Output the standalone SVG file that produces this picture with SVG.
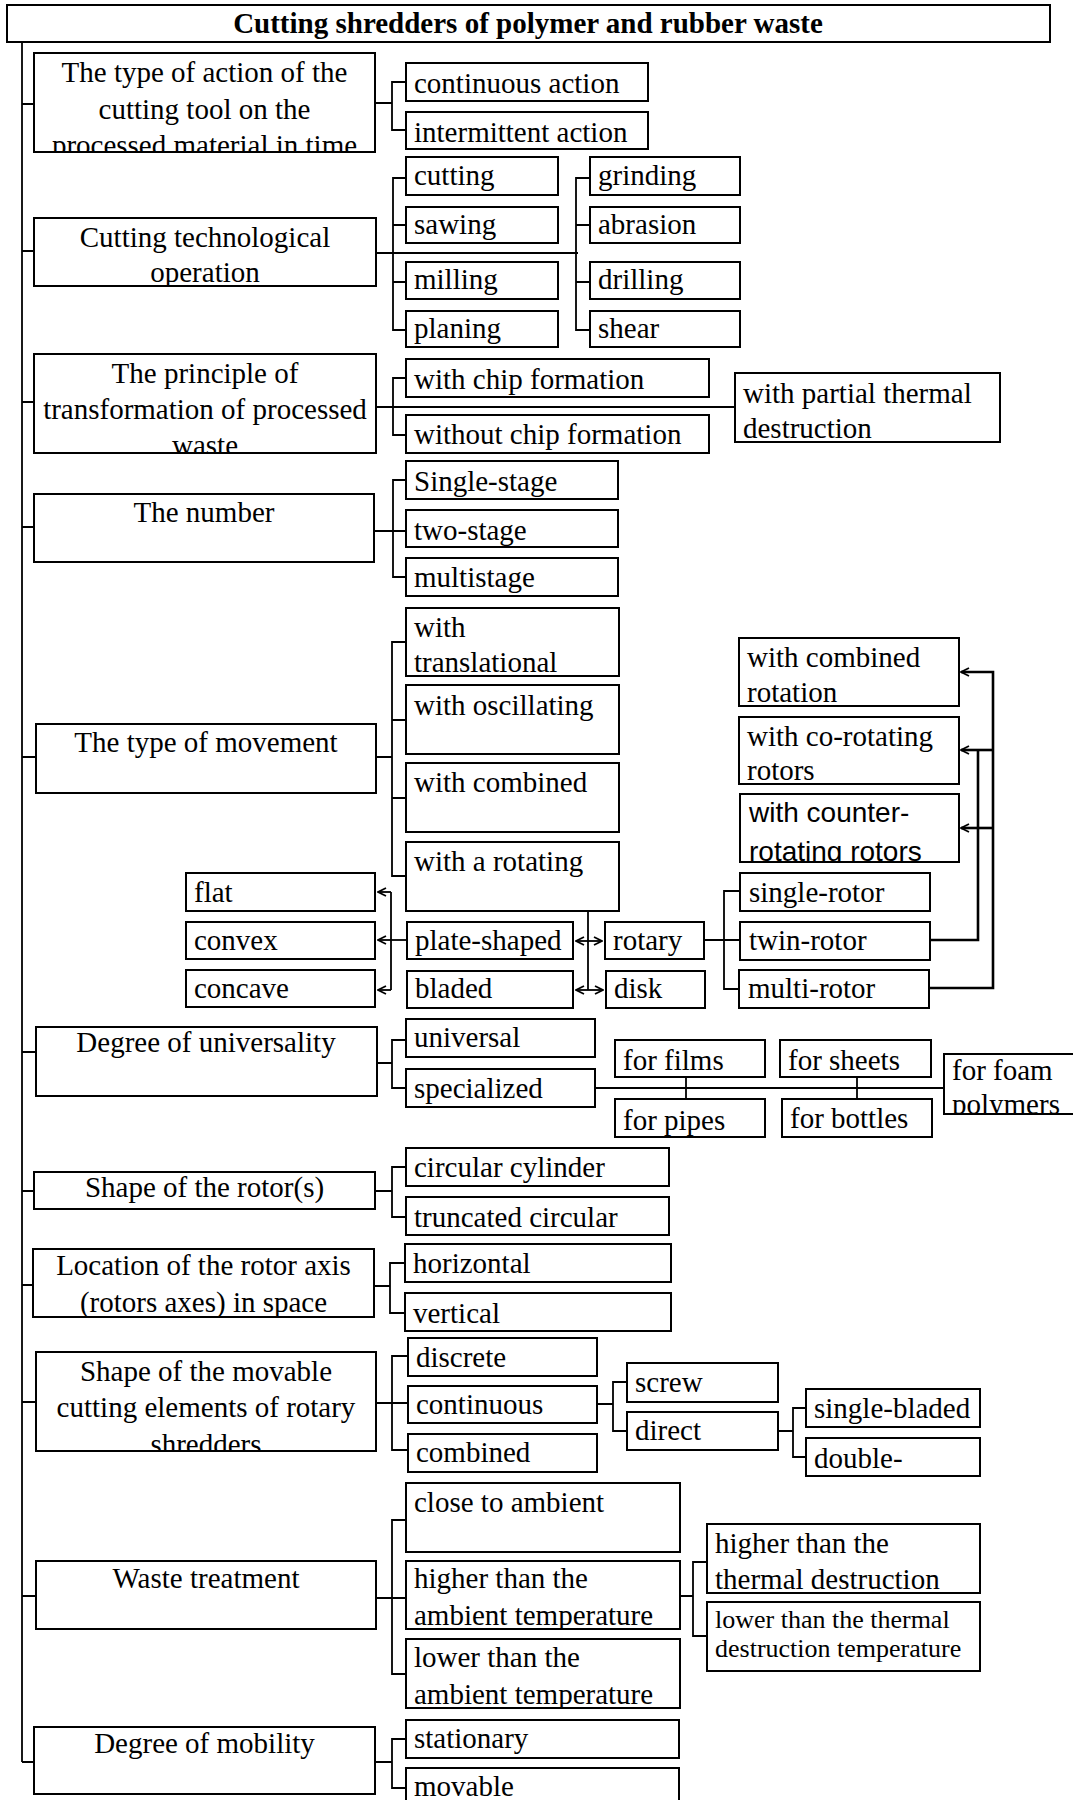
<svg xmlns="http://www.w3.org/2000/svg" width="1073" height="1800" viewBox="0 0 1073 1800">
<defs>
<style>
.b{fill:#fff;stroke:#000;stroke-width:2}
.t{font-family:"Liberation Serif","Times New Roman",serif;font-size:29px;fill:#000}
.c{text-anchor:middle}
.s{font-family:"Liberation Sans",Arial,sans-serif;font-size:28px}
.sm{font-size:26px}
.ln{fill:none;stroke:#000;stroke-width:1.8}
.th{stroke-width:2.6}
.ar{marker-end:url(#ah)}
.da{marker-start:url(#ah);marker-end:url(#ah)}
</style>
<marker id="ah" viewBox="0 0 10 10" refX="9" refY="5" markerWidth="10" markerHeight="10" markerUnits="userSpaceOnUse" orient="auto-start-reverse">
<path d="M1,1 L9,5 L1,9" fill="none" stroke="#000" stroke-width="1.8"/>
</marker>
</defs>
<rect width="1073" height="1800" fill="#fff"/>

<g id="connectors" class="ln">
<path d="M22,42 V1762"/>
<path d="M22,104 H34 M22,251 H34 M22,402 H34 M22,527 H34 M22,757 H36 M22,1052 H36 M22,1191 H34 M22,1285 H33 M22,1402 H36 M22,1596 H36 M22,1762 H34"/>
<path d="M375,103 H392 M406,82 H392 V130 H406"/>
<path d="M376,253 H578 M406,178 H393 V330 H406 M406,225 H393 M406,282 H393 M590,178 H576 V330 H590 M590,225 H576 M590,282 H576"/>
<path d="M376,407 H735 M406,378 H393 V435 H406"/>
<path d="M374,531 H406 M406,480 H393 V577 H406"/>
<path d="M376,757 H392 M406,642 H392 V876 H406 M392,720 H406 M392,798 H406"/>
<path d="M588,911 V990"/>
<path class="da" d="M576,941 H602"/>
<path class="da" d="M576,990 H603"/>
<path class="ar" d="M407,940 H378"/>
<path d="M391,892 V990"/>
<path class="ar" d="M391,892 H378"/>
<path class="ar" d="M391,990 H378"/>
<path d="M704,940 H724 M739,891 H724 V989 H739 M724,940 H739"/>
<path class="th ar" d="M929,988 H993 V672 H961"/>
<path class="th ar" d="M993,750 H961"/>
<path class="th ar" d="M993,828 H961"/>
<path class="th" d="M930,940 H978 V750"/>
<path d="M377,1063 H392 M406,1040 H392 V1088 H406 M595,1088 H944 M686,1077 V1099 M857,1077 V1099"/>
<path d="M375,1191 H392 M406,1167 H392 V1217 H406"/>
<path d="M374,1286 H390 M405,1263 H390 V1313 H405"/>
<path d="M376,1403 H408 M408,1356 H392 V1450 H408"/>
<path d="M597,1404 H613 M627,1382 H613 V1431 H627"/>
<path d="M778,1431 H793 M806,1408 H793 V1457 H806"/>
<path d="M376,1598 H406 M406,1520 H392 V1674 H406"/>
<path d="M680,1596 H693 M707,1562 H693 V1636 H707"/>
<path d="M375,1762 H392 M406,1739 H392 V1788 H406"/>
</g>

<g id="title"><rect class="b" x="7" y="5" width="1043" height="37"/><text class="t c" x="528" y="33" font-weight="bold">Cutting shredders of polymer and rubber waste</text></g>

<g id="n1"><rect class="b" x="34" y="53" width="341" height="99"/><svg x="34" y="53" width="341" height="99"><text class="t c" x="170.5" y="29">The type of action of the</text><text class="t c" x="170.5" y="65.5">cutting tool on the</text><text class="t c" x="170.5" y="102">processed material in time</text></svg></g>
<g id="n1a"><rect class="b" x="406" y="63" width="242" height="38"/><text class="t" x="414" y="93">continuous action</text></g>
<g id="n1b"><rect class="b" x="406" y="112" width="242" height="37"/><text class="t" x="414" y="142">intermittent action</text></g>

<g id="n2"><rect class="b" x="34" y="218" width="342" height="68"/><svg x="34" y="218" width="342" height="68"><text class="t c" x="171" y="29">Cutting technological</text><text class="t c" x="171" y="64">operation</text></svg></g>
<g id="n2a"><rect class="b" x="406" y="157" width="152" height="38"/><text class="t" x="414" y="185">cutting</text></g>
<g id="n2b"><rect class="b" x="406" y="207" width="152" height="36"/><text class="t" x="414" y="234">sawing</text></g>
<g id="n2c"><rect class="b" x="406" y="262" width="152" height="37"/><text class="t" x="414" y="289">milling</text></g>
<g id="n2d"><rect class="b" x="406" y="311" width="152" height="36"/><text class="t" x="414" y="338">planing</text></g>
<g id="n2e"><rect class="b" x="590" y="157" width="150" height="38"/><text class="t" x="598" y="185">grinding</text></g>
<g id="n2f"><rect class="b" x="590" y="207" width="150" height="36"/><text class="t" x="598" y="234">abrasion</text></g>
<g id="n2g"><rect class="b" x="590" y="262" width="150" height="37"/><text class="t" x="598" y="289">drilling</text></g>
<g id="n2h"><rect class="b" x="590" y="311" width="150" height="36"/><text class="t" x="598" y="338">shear</text></g>

<g id="n3"><rect class="b" x="34" y="354" width="342" height="99"/><svg x="34" y="354" width="342" height="99"><text class="t c" x="171" y="29">The principle of</text><text class="t c" x="171" y="65">transformation of processed</text><text class="t c" x="171" y="101">waste</text></svg></g>
<g id="n3a"><rect class="b" x="406" y="359" width="303" height="38"/><text class="t" x="414" y="389">with chip formation</text></g>
<g id="n3b"><rect class="b" x="406" y="415" width="303" height="38"/><text class="t" x="414" y="444">without chip formation</text></g>
<g id="n3c"><rect class="b" x="735" y="373" width="265" height="69"/><svg x="735" y="373" width="265" height="69"><text class="t" x="8" y="30">with partial thermal</text><text class="t" x="8" y="65">destruction</text></svg></g>

<g id="n4"><rect class="b" x="34" y="494" width="340" height="68"/><text class="t c" x="204" y="522">The number</text></g>
<g id="n4a"><rect class="b" x="406" y="461" width="212" height="38"/><text class="t" x="414" y="491">Single-stage</text></g>
<g id="n4b"><rect class="b" x="406" y="510" width="212" height="37"/><text class="t" x="414" y="540">two-stage</text></g>
<g id="n4c"><rect class="b" x="406" y="558" width="212" height="38"/><text class="t" x="414" y="587">multistage</text></g>

<g id="n5"><rect class="b" x="36" y="724" width="340" height="69"/><text class="t c" x="206" y="752">The type of movement</text></g>
<g id="n5a"><rect class="b" x="406" y="608" width="213" height="68"/><svg x="406" y="608" width="213" height="68"><text class="t" x="8" y="29">with</text><text class="t" x="8" y="64">translational</text></svg></g>
<g id="n5b"><rect class="b" x="406" y="685" width="213" height="69"/><text class="t" x="414" y="715">with oscillating</text></g>
<g id="n5c"><rect class="b" x="406" y="763" width="213" height="69"/><text class="t" x="414" y="792">with combined</text></g>
<g id="n5d"><rect class="b" x="406" y="842" width="213" height="69"/><text class="t" x="414" y="871">with a rotating</text></g>

<g id="n5e"><rect class="b" x="739" y="638" width="220" height="68"/><svg x="739" y="638" width="220" height="68"><text class="t" x="8" y="29">with combined</text><text class="t" x="8" y="64">rotation</text></svg></g>
<g id="n5f"><rect class="b" x="739" y="717" width="220" height="67"/><svg x="739" y="717" width="220" height="67"><text class="t" x="8" y="29">with co-rotating</text><text class="t" x="8" y="63">rotors</text></svg></g>
<g id="n5g"><rect class="b" x="740" y="794" width="219" height="68"/><svg x="740" y="794" width="219" height="68"><text class="t s" x="9" y="28">with counter-</text><text class="t s" x="9" y="67">rotating rotors</text></svg></g>
<g id="n5h"><rect class="b" x="740" y="873" width="190" height="38"/><text class="t" x="749" y="902">single-rotor</text></g>
<g id="n5i"><rect class="b" x="740" y="922" width="190" height="38"/><text class="t" x="749" y="950">twin-rotor</text></g>
<g id="n5j"><rect class="b" x="739" y="970" width="190" height="38"/><text class="t" x="748" y="998">multi-rotor</text></g>
<g id="n5k"><rect class="b" x="605" y="922" width="99" height="37"/><text class="t" x="613" y="950">rotary</text></g>
<g id="n5l"><rect class="b" x="606" y="971" width="99" height="37"/><text class="t" x="614" y="998">disk</text></g>
<g id="n5m"><rect class="b" x="186" y="873" width="189" height="38"/><text class="t" x="194" y="902">flat</text></g>
<g id="n5n"><rect class="b" x="186" y="922" width="189" height="37"/><text class="t" x="194" y="950">convex</text></g>
<g id="n5o"><rect class="b" x="186" y="970" width="189" height="37"/><text class="t" x="194" y="998">concave</text></g>
<g id="n5p"><rect class="b" x="407" y="922" width="166" height="37"/><text class="t" x="415" y="950">plate-shaped</text></g>
<g id="n5q"><rect class="b" x="407" y="971" width="166" height="37"/><text class="t" x="415" y="998">bladed</text></g>

<g id="n6"><rect class="b" x="36" y="1027" width="341" height="69"/><text class="t c" x="206" y="1052">Degree of universality</text></g>
<g id="n6a"><rect class="b" x="406" y="1019" width="189" height="38"/><text class="t" x="414" y="1047">universal</text></g>
<g id="n6b"><rect class="b" x="406" y="1069" width="189" height="38"/><text class="t" x="414" y="1098">specialized</text></g>
<g id="n6c"><rect class="b" x="615" y="1040" width="150" height="37"/><text class="t" x="623" y="1070">for films</text></g>
<g id="n6d"><rect class="b" x="615" y="1099" width="150" height="38"/><svg x="615" y="1099" width="150" height="38"><text class="t" x="8" y="31">for pipes</text></svg></g>
<g id="n6e"><rect class="b" x="780" y="1040" width="151" height="37"/><text class="t" x="788" y="1070">for sheets</text></g>
<g id="n6f"><rect class="b" x="782" y="1099" width="150" height="38"/><text class="t" x="790" y="1128">for bottles</text></g>
<g id="n6g"><rect class="b" x="944" y="1054" width="135" height="60"/><svg x="944" y="1054" width="135" height="60"><text class="t" x="8" y="26">for foam</text><text class="t" x="8" y="60">polymers</text></svg></g>

<g id="n7"><rect class="b" x="34" y="1172" width="341" height="37"/><text class="t c" x="204.5" y="1197">Shape of the rotor(s)</text></g>
<g id="n7a"><rect class="b" x="406" y="1148" width="263" height="38"/><text class="t" x="414" y="1177">circular cylinder</text></g>
<g id="n7b"><rect class="b" x="406" y="1197" width="263" height="38"/><text class="t" x="414" y="1227">truncated circular</text></g>

<g id="n8"><rect class="b" x="33" y="1249" width="341" height="68"/><svg x="33" y="1249" width="341" height="68"><text class="t c" x="170.5" y="26">Location of the rotor axis</text><text class="t c" x="170.5" y="63">(rotors axes) in space</text></svg></g>
<g id="n8a"><rect class="b" x="405" y="1244" width="266" height="38"/><text class="t" x="413" y="1273">horizontal</text></g>
<g id="n8b"><rect class="b" x="405" y="1293" width="266" height="38"/><text class="t" x="413" y="1323">vertical</text></g>

<g id="n9"><rect class="b" x="36" y="1352" width="340" height="99"/><svg x="36" y="1352" width="340" height="99"><text class="t c" x="170" y="29">Shape of the movable</text><text class="t c" x="170" y="65">cutting elements of rotary</text><text class="t c" x="170" y="102">shredders</text></svg></g>
<g id="n9a"><rect class="b" x="408" y="1338" width="189" height="38"/><text class="t" x="416" y="1367">discrete</text></g>
<g id="n9b"><rect class="b" x="408" y="1386" width="189" height="37"/><text class="t" x="416" y="1414">continuous</text></g>
<g id="n9c"><rect class="b" x="408" y="1434" width="189" height="38"/><text class="t" x="416" y="1462">combined</text></g>
<g id="n9d"><rect class="b" x="627" y="1363" width="151" height="39"/><text class="t" x="635" y="1392">screw</text></g>
<g id="n9e"><rect class="b" x="627" y="1412" width="151" height="38"/><text class="t" x="635" y="1440">direct</text></g>
<g id="n9f"><rect class="b" x="806" y="1389" width="174" height="38"/><text class="t" x="814" y="1418">single-bladed</text></g>
<g id="n9g"><rect class="b" x="806" y="1438" width="174" height="38"/><text class="t" x="814" y="1468">double-</text></g>

<g id="n10"><rect class="b" x="36" y="1561" width="340" height="68"/><text class="t c" x="206" y="1588">Waste treatment</text></g>
<g id="n10a"><rect class="b" x="406" y="1483" width="274" height="69"/><text class="t" x="414" y="1512">close to ambient</text></g>
<g id="n10b"><rect class="b" x="406" y="1561" width="274" height="68"/><svg x="406" y="1561" width="274" height="68"><text class="t" x="8" y="27">higher than the</text><text class="t" x="8" y="64">ambient temperature</text></svg></g>
<g id="n10c"><rect class="b" x="406" y="1639" width="274" height="69"/><svg x="406" y="1639" width="274" height="69"><text class="t" x="8" y="28">lower than the</text><text class="t" x="8" y="65">ambient temperature</text></svg></g>
<g id="n10d"><rect class="b" x="707" y="1524" width="273" height="69"/><svg x="707" y="1524" width="273" height="69"><text class="t" x="8" y="29">higher than the</text><text class="t" x="8" y="65">thermal destruction</text></svg></g>
<g id="n10e"><rect class="b" x="707" y="1602" width="273" height="69"/><text class="t sm" x="715" y="1628">lower than the thermal</text><text class="t sm" x="715" y="1657">destruction temperature</text></g>

<g id="n11"><rect class="b" x="34" y="1727" width="341" height="67"/><text class="t c" x="204.5" y="1753">Degree of mobility</text></g>
<g id="n11a"><rect class="b" x="406" y="1720" width="273" height="38"/><text class="t" x="414" y="1748">stationary</text></g>
<g id="n11b"><rect class="b" x="406" y="1768" width="273" height="45"/><text class="t" x="414" y="1796">movable</text></g>
</svg>
